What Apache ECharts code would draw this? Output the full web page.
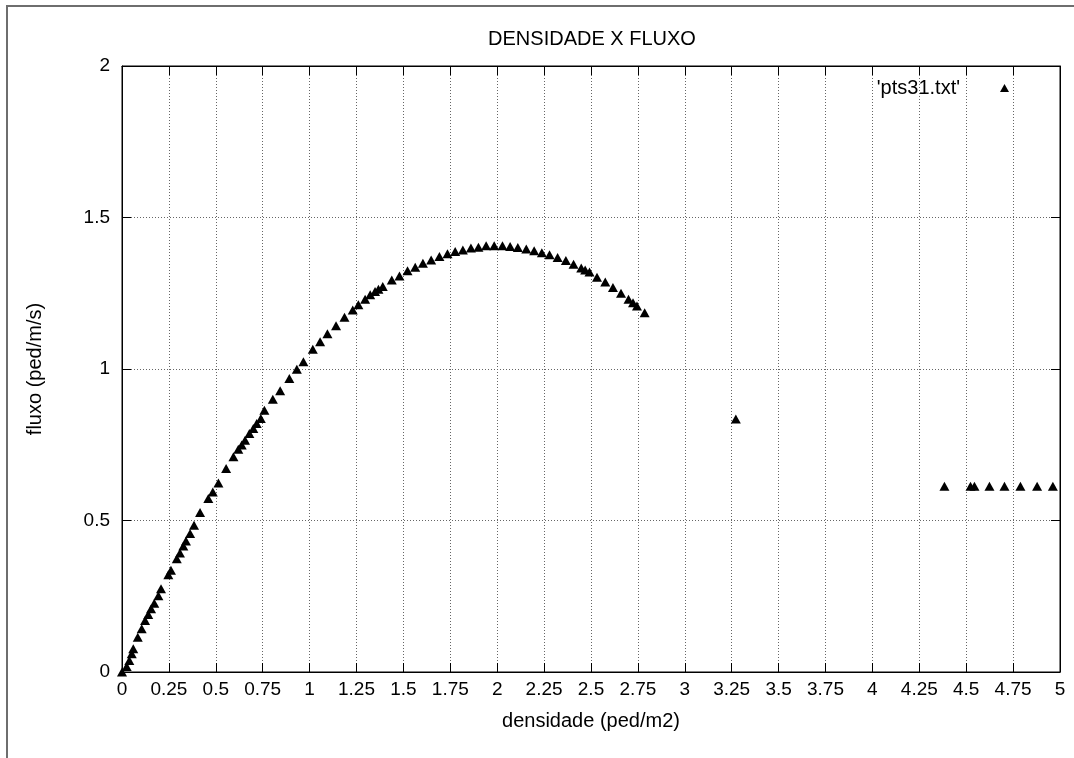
<!DOCTYPE html>
<html>
<head>
<meta charset="utf-8">
<script src="https://cdn.jsdelivr.net/npm/echarts@6/dist/echarts.min.js"></script>
<style>
html,body{margin:0;padding:0;background:#fff;}
#c{width:1074px;height:758px;}
</style>
</head>
<body>
<div id="c"></div>
<script>
const title = 'DENSIDADE X FLUXO';
const xName = 'densidade (ped/m2)';
const yName = 'fluxo (ped/m/s)';
const seriesName = "'pts31.txt'";

const densidade = [
  0.00, 0.025, 0.039, 0.052, 0.060, 0.084, 0.105, 0.123, 0.140, 0.155,
  0.172, 0.194, 0.208, 0.247, 0.261, 0.292, 0.309, 0.327, 0.341, 0.363,
  0.384, 0.416, 0.460, 0.484, 0.514, 0.555, 0.594, 0.620, 0.638, 0.656,
  0.679, 0.700, 0.718, 0.740, 0.759, 0.804, 0.843, 0.892, 0.932, 0.967,
  1.017, 1.056, 1.095, 1.141, 1.186, 1.230, 1.260, 1.296, 1.323, 1.349,
  1.367, 1.390, 1.438, 1.479, 1.522, 1.563, 1.604, 1.648, 1.692, 1.735,
  1.776, 1.817, 1.860, 1.900, 1.941, 1.984, 2.028, 2.069, 2.110, 2.155,
  2.197, 2.238, 2.279, 2.322, 2.366, 2.407, 2.448, 2.469, 2.492, 2.532,
  2.576, 2.617, 2.660, 2.700, 2.724, 2.745, 2.786,
  3.272,
  4.384, 4.523, 4.544, 4.624, 4.704, 4.789, 4.878, 4.962
];
const fluxo = [
  0.000, 0.018, 0.038, 0.060, 0.077, 0.115, 0.143, 0.170, 0.190, 0.209,
  0.227, 0.252, 0.275, 0.321, 0.336, 0.374, 0.393, 0.416, 0.432, 0.457,
  0.484, 0.526, 0.573, 0.594, 0.624, 0.672, 0.710, 0.735, 0.749, 0.765,
  0.787, 0.804, 0.820, 0.837, 0.864, 0.900, 0.928, 0.969, 0.999, 1.024,
  1.065, 1.090, 1.116, 1.143, 1.171, 1.195, 1.212, 1.230, 1.245, 1.256,
  1.263, 1.272, 1.294, 1.307, 1.324, 1.336, 1.349, 1.360, 1.371, 1.380,
  1.388, 1.393, 1.399, 1.402, 1.407, 1.407, 1.407, 1.404, 1.401, 1.396,
  1.390, 1.384, 1.377, 1.368, 1.358, 1.346, 1.333, 1.327, 1.320, 1.303,
  1.287, 1.269, 1.250, 1.230, 1.219, 1.208, 1.186,
  0.835,
  0.613, 0.613, 0.613, 0.613, 0.613, 0.613, 0.613, 0.613
];

const points = densidade.map((d, i) => [d, fluxo[i]]);

const font = 'Liberation Sans, Arial, Helvetica, sans-serif';
const fs = 19;
const fsName = 20;
const chart = echarts.init(document.getElementById('c'), null, {renderer: 'canvas'});
const gridLine = {show: true, lineStyle: {color: '#666', type: [1, 2], width: 1}};
chart.setOption({
  animation: false,
  backgroundColor: '#fff',
  textStyle: {fontFamily: font},
  title: {
    text: title,
    left: 587, top: 24, textAlign: 'center',
    textStyle: {fontFamily: font, fontSize: fsName, fontWeight: 'normal', color: '#000'}
  },
  legend: {
    data: [seriesName],
    right: 60, top: 73, align: 'right',
    itemWidth: 9, itemHeight: 8,
    textStyle: {fontFamily: font, fontSize: fsName, color: '#000', padding: [0, 35, 0, 0]}
  },
  graphic: [{
    type: 'rect', silent: true, z: -1,
    shape: {x: 7, y: 6, width: 1200, height: 900},
    style: {fill: 'none', stroke: '#6e6e6e', lineWidth: 2}
  }],
  grid: {left: 122, right: 14, top: 66, bottom: 86, show: true, borderColor: '#000', borderWidth: 1, backgroundColor: 'transparent'},
  xAxis: [{
    type: 'value', min: 0, max: 5, interval: 0.25,
    name: xName, nameLocation: 'middle', nameGap: 39,
    nameTextStyle: {fontFamily: font, fontSize: fsName, color: '#000'},
    axisLine: {show: true, onZero: false, lineStyle: {color: '#000', width: 1}},
    axisTick: {show: true, inside: true, length: 9, lineStyle: {color: '#000'}},
    axisLabel: {fontFamily: font, fontSize: fs, color: '#000', margin: 8},
    splitLine: gridLine
  }, {
    type: 'value', min: 0, max: 5, interval: 0.25, position: 'top',
    axisLine: {show: true, onZero: false, lineStyle: {color: '#000', width: 1}},
    axisTick: {show: true, inside: true, length: 9, lineStyle: {color: '#000'}},
    axisLabel: {show: false},
    splitLine: {show: false}
  }],
  yAxis: [{
    type: 'value', min: 0, max: 2, interval: 0.5,
    name: yName, nameLocation: 'middle', nameGap: 77, nameRotate: 90,
    nameTextStyle: {fontFamily: font, fontSize: fsName, color: '#000'},
    axisLine: {show: true, onZero: false, lineStyle: {color: '#000', width: 1}},
    axisTick: {show: true, inside: true, length: 9, lineStyle: {color: '#000'}},
    axisLabel: {fontFamily: font, fontSize: fs, color: '#000', margin: 12},
    splitLine: gridLine
  }, {
    type: 'value', min: 0, max: 2, interval: 0.5, position: 'right',
    axisLine: {show: true, onZero: false, lineStyle: {color: '#000', width: 1}},
    axisTick: {show: true, inside: true, length: 9, lineStyle: {color: '#000'}},
    axisLabel: {show: false},
    splitLine: {show: false}
  }],
  series: [{
    name: seriesName,
    type: 'scatter',
    xAxisIndex: 0, yAxisIndex: 0,
    symbol: 'triangle',
    symbolSize: [10, 9],
    itemStyle: {color: '#000', opacity: 1},
    clip: false,
    data: points
  }]
});
</script>
</body>
</html>
